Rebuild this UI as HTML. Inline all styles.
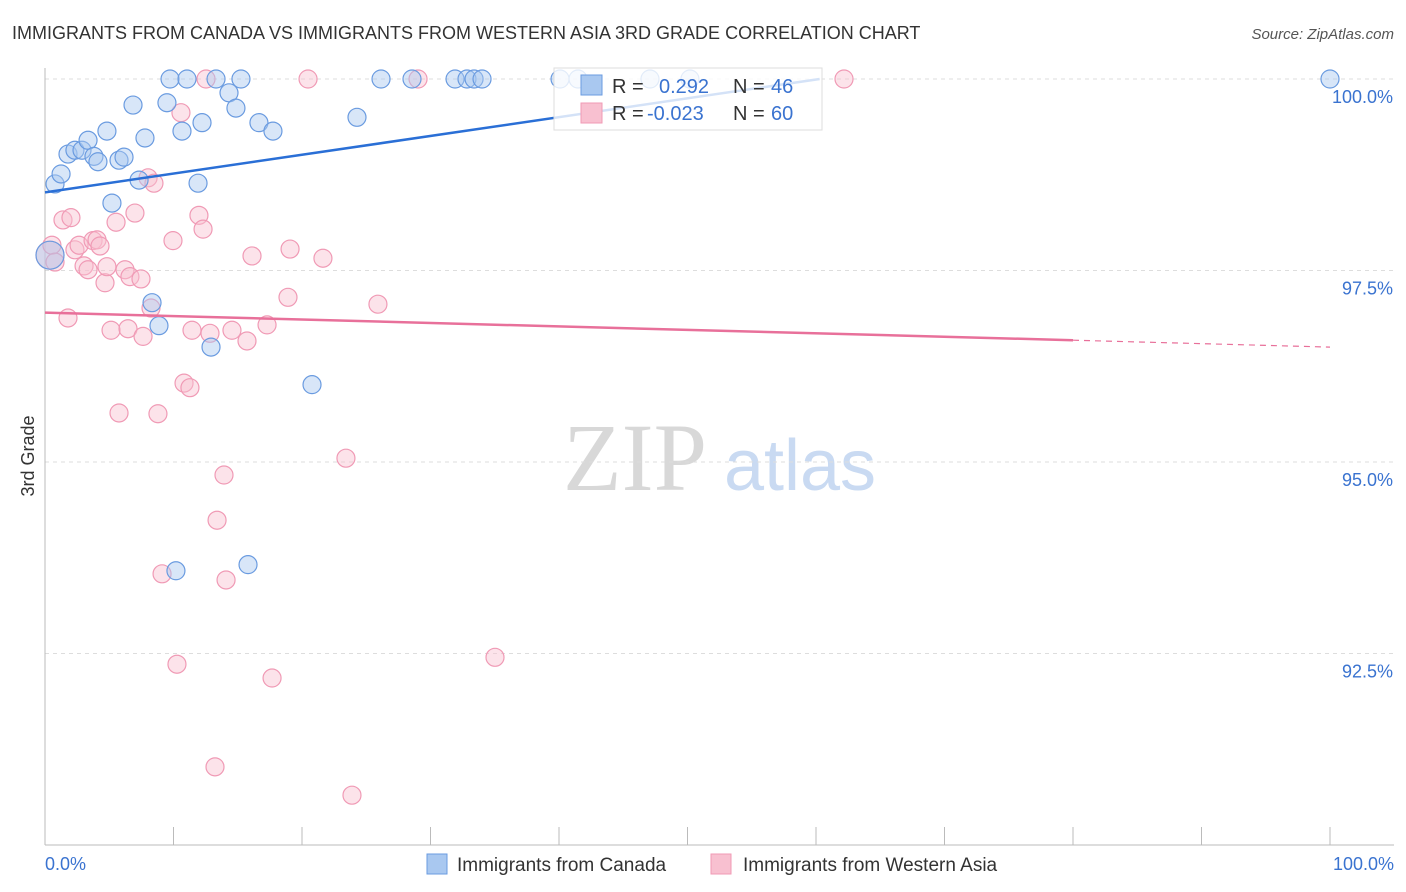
<!DOCTYPE html>
<html><head><meta charset="utf-8"><style>
body{margin:0;background:#fff;font-family:"Liberation Sans",sans-serif;}
#wrap{position:relative;width:1406px;height:892px;overflow:hidden;}
</style></head><body>
<div id="wrap">
<svg id="svg" width="1406" height="892" xmlns="http://www.w3.org/2000/svg">
<text x="12" y="39" font-size="18" fill="#333">IMMIGRANTS FROM CANADA VS IMMIGRANTS FROM WESTERN ASIA 3RD GRADE CORRELATION CHART</text>
<text x="1394" y="39" font-size="15" fill="#555" text-anchor="end" font-style="italic">Source: ZipAtlas.com</text>
<text x="34" y="456" font-size="18" fill="#333" text-anchor="middle" transform="rotate(-90 34 456)">3rd Grade</text>
<g>
<text x="635" y="490" font-size="96" fill="#d8d8d8" text-anchor="middle" font-family="Liberation Serif,serif">ZIP</text>
<text x="800" y="490" font-size="72" fill="#c9daf2" text-anchor="middle">atlas</text>
</g>
<g id="grid"></g><g id="pts"></g><g id="lines"></g>
<g>
<rect x="554" y="68" width="268" height="62" fill="#fff" fill-opacity="0.8" stroke="#ddd"/>
<rect x="581" y="75" width="21" height="20" fill="#a9c8f0" stroke="#6a9be0"/>
<rect x="581" y="103" width="21" height="20" fill="#f8c0d0" stroke="#f09ab5"/>
<text x="612" y="93" font-size="20" fill="#333">R = </text><text x="659" y="93" font-size="20" fill="#3a73d0">0.292</text>
<text x="733" y="93" font-size="20" fill="#333">N = </text><text x="771" y="93" font-size="20" fill="#3a73d0">46</text>
<text x="612" y="120" font-size="20" fill="#333">R = </text><text x="647" y="120" font-size="20" fill="#3a73d0">-0.023</text>
<text x="733" y="120" font-size="20" fill="#333">N = </text><text x="771" y="120" font-size="20" fill="#3a73d0">60</text>
</g>
<g>
<rect x="427" y="854" width="20" height="20" fill="#a9c8f0" stroke="#6a9be0"/>
<text x="457" y="871" font-size="19" fill="#333">Immigrants from Canada</text>
<rect x="711" y="854" width="20" height="20" fill="#f8c0d0" stroke="#f09ab5"/>
<text x="743" y="871" font-size="19" fill="#333">Immigrants from Western Asia</text>
</g>
<text x="45" y="870" font-size="18" fill="#3a73d0">0.0%</text>
<text x="1394" y="870" font-size="18" fill="#3a73d0" text-anchor="end">100.0%</text>
</svg></div>
<script>
const yTicks=[100,97.5,95,92.5];
const yTickLabels=["100.0%","97.5%","95.0%","92.5%"];
const xTicks=[0,10,20,30,40,50,60,70,80,90,100];
const blueX=[0.78,1.25,1.79,2.33,2.88,3.35,3.81,4.12,4.82,5.21,5.76,6.15,6.85,7.32,7.78,8.33,8.87,9.49,9.73,10.19,10.66,11.05,11.91,12.22,12.92,13.31,14.32,14.86,15.25,15.8,16.65,17.74,20.78,24.28,26.15,28.56,31.91,32.84,33.39,34.01,40.08,41.48,47.08,50.19,100,0.39];
const blueY=[98.63,98.76,99.02,99.07,99.07,99.2,98.99,98.92,99.32,98.38,98.94,98.98,99.66,98.68,99.23,97.08,96.78,99.69,100,93.58,99.32,100,98.64,99.43,96.5,100,99.82,99.62,100,93.66,99.43,99.32,96.01,99.5,100,100,100,100,100,100,100,100,100,100,100,97.7];
const pinkX=[0.39,0.54,0.78,1.4,1.79,2.02,2.33,2.65,3.04,3.35,3.74,4.05,4.28,4.67,4.82,5.14,5.53,5.76,6.23,6.46,6.61,7,7.47,7.63,8.02,8.25,8.48,8.79,9.11,9.96,10.27,10.58,10.82,11.28,11.44,11.98,12.3,12.84,13.23,13.39,12.53,13.93,14.09,14.55,15.72,16.11,17.28,17.67,18.91,19.07,20.47,21.63,23.42,23.89,25.91,29.03,35.02,62.18];
const pinkY=[97.7,97.83,97.61,98.16,96.88,98.19,97.77,97.83,97.56,97.51,97.89,97.9,97.82,97.34,97.55,96.72,98.13,95.64,97.51,96.74,97.42,98.25,97.39,96.64,98.71,97.01,98.64,95.63,93.54,97.89,92.36,99.56,96.03,95.97,96.72,98.22,98.04,96.68,91.02,94.24,100,94.83,93.46,96.72,96.58,97.69,96.79,92.18,97.15,97.78,100,97.66,95.05,90.65,97.06,100,92.45,100];
const blueTrend=[98.52,0.02455]; // intercept, slope
const pinkTrend=[96.95,-0.0045];
const NS="http://www.w3.org/2000/svg";
const X=v=>45+v*12.85, Y=v=>79+(100-v)*76.6;
function mk(tag,attrs,parent){const e=document.createElementNS(NS,tag);for(const k in attrs)e.setAttribute(k,attrs[k]);parent.appendChild(e);return e;}
const grid=document.getElementById('grid');
yTicks.forEach((t,i)=>{
 const l=mk('line',{x1:45,x2:1394,y1:Y(t),y2:Y(t),stroke:'#ddd','stroke-dasharray':'4,4'},grid);
 
 
 const tx=mk('text',{x:1393,y:Y(t)+24,'font-size':18,fill:'#3a73d0','text-anchor':'end'},grid);
 tx.textContent=yTickLabels[i];
 
 
});
const ax=mk('line',{x1:45,x2:1394,y1:845,y2:845,stroke:'#bbb'},grid);


const ay=mk('line',{x1:45,x2:45,y1:68,y2:845,stroke:'#bbb'},grid);


xTicks.forEach(t=>{
 const l=mk('line',{x1:X(t),x2:X(t),y1:827,y2:845,stroke:'#bbb'},grid);
 
 
});
const pts=document.getElementById('pts');
function draw(xs,ys,fill,stroke,name){
 xs.forEach((x,i)=>{
  const big=(i===xs.length-1&&name==='canada-point')||(i===0&&name==='western-asia-point');
  const c=mk('circle',{cx:X(x),cy:Y(ys[i]),r:big?14:9,fill:fill,'fill-opacity':0.45,stroke:stroke,'stroke-width':1.2},pts);
  
  
 });
}
draw(pinkX,pinkY,'#f8c0d0','#f09ab5','western-asia-point');
draw(blueX,blueY,'#a9c8f0','#6a9be0','canada-point');
const lines=document.getElementById('lines');
const bx2=(100-blueTrend[0])/blueTrend[1];
const bl=mk('line',{x1:X(0),y1:Y(blueTrend[0]),x2:X(bx2),y2:Y(100),stroke:'#2a6fd6','stroke-width':2.5},lines);


const pl=mk('line',{x1:X(0),y1:Y(pinkTrend[0]),x2:X(80),y2:Y(pinkTrend[0]+80*pinkTrend[1]),stroke:'#e8709a','stroke-width':2.5},lines);


const pd=mk('line',{x1:X(80),y1:Y(pinkTrend[0]+80*pinkTrend[1]),x2:X(100),y2:Y(pinkTrend[0]+100*pinkTrend[1]),stroke:'#e8709a','stroke-width':1.2,'stroke-dasharray':'6,5'},lines);


</script>
</body></html>
